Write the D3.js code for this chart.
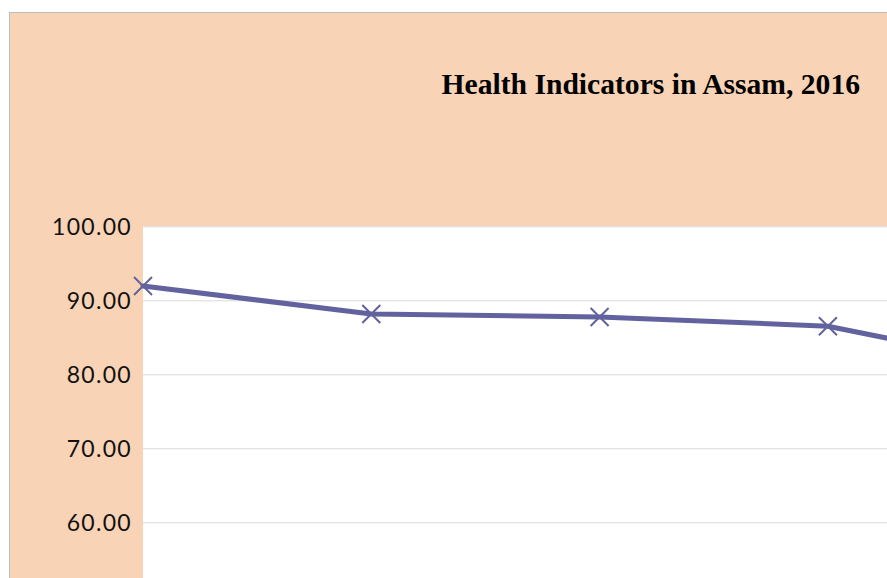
<!DOCTYPE html>
<html>
<head>
<meta charset="utf-8">
<script src="https://cdn.jsdelivr.net/npm/d3@7"></script>
<style>
html,body{margin:0;padding:0;background:#fff;overflow:hidden;}
svg{display:block;}
</style>
</head>
<body>
<svg id="chart" width="887" height="578"></svg>
<script>
const title = "Health Indicators in Assam, 2016";
const categories = ["Indicator A", "Indicator B", "Indicator C", "Indicator D", "Indicator E"];
const values = [91.93, 88.15, 87.75, 86.5, 80.3];
const yTicks = [60, 70, 80, 90, 100];

const svg = d3.select("#chart");

// chart area (peach) extends beyond the visible crop
svg.append("rect").attr("x", 9.5).attr("y", 12.5).attr("width", 1200).attr("height", 1200)
  .attr("fill", "#F8D3B5").attr("stroke", "#BDBDBD").attr("stroke-width", 1);

const plotLeft = 143, plotTop = 226.3, plotBottom = 966.3;
const step = 228.3;
const x = d3.scalePoint().domain(categories).range([plotLeft, plotLeft + step * (categories.length - 1)]);
const y = d3.scaleLinear().domain([0, 100]).range([plotBottom, plotTop]);

svg.append("rect").attr("x", plotLeft).attr("y", plotTop)
  .attr("width", 1200).attr("height", plotBottom - plotTop).attr("fill", "#ffffff");

// gridlines
const grid = svg.append("g").attr("transform", `translate(${plotLeft},0)`)
  .call(d3.axisLeft(y).tickValues(yTicks).tickSize(-1200).tickFormat(""));
grid.select(".domain").remove();
grid.selectAll("line").attr("stroke", "#D9D9D9").attr("stroke-width", 1);

// y axis labels
const yAxis = svg.append("g").attr("transform", `translate(${plotLeft},0)`)
  .call(d3.axisLeft(y).tickValues(yTicks).tickSize(0).tickPadding(11).tickFormat(d3.format(".2f")));
yAxis.select(".domain").remove();
yAxis.selectAll("text")
  .attr("font-family", "Lato, 'Open Sans', sans-serif")
  .attr("font-size", 23)
  .attr("letter-spacing", "1.3px")
  .attr("fill", "#111")
  .attr("dy", "0.36em");

// line
const line = d3.line().x((d, i) => x(categories[i])).y(d => y(d));
svg.append("path").datum(values).attr("d", line)
  .attr("fill", "none").attr("stroke", "#62639E").attr("stroke-width", 5)
  .attr("stroke-linejoin", "round").attr("stroke-linecap", "round");

// X markers
const s = 9;
svg.append("g").selectAll("path").data(values).join("path")
  .attr("d", (d, i) => {
    const cx = x(categories[i]), cy = y(d);
    return `M${cx - s},${cy - s}L${cx + s},${cy + s}M${cx - s},${cy + s}L${cx + s},${cy - s}`;
  })
  .attr("stroke", "#62639E").attr("stroke-width", 2).attr("fill", "none");

// title
svg.append("text").attr("x", 860).attr("y", 94).attr("text-anchor", "end")
  .attr("font-family", "'Liberation Serif', 'Times New Roman', serif")
  .attr("font-weight", "bold").attr("font-size", 29.6).attr("fill", "#000")
  .text(title);
</script>
</body>
</html>
